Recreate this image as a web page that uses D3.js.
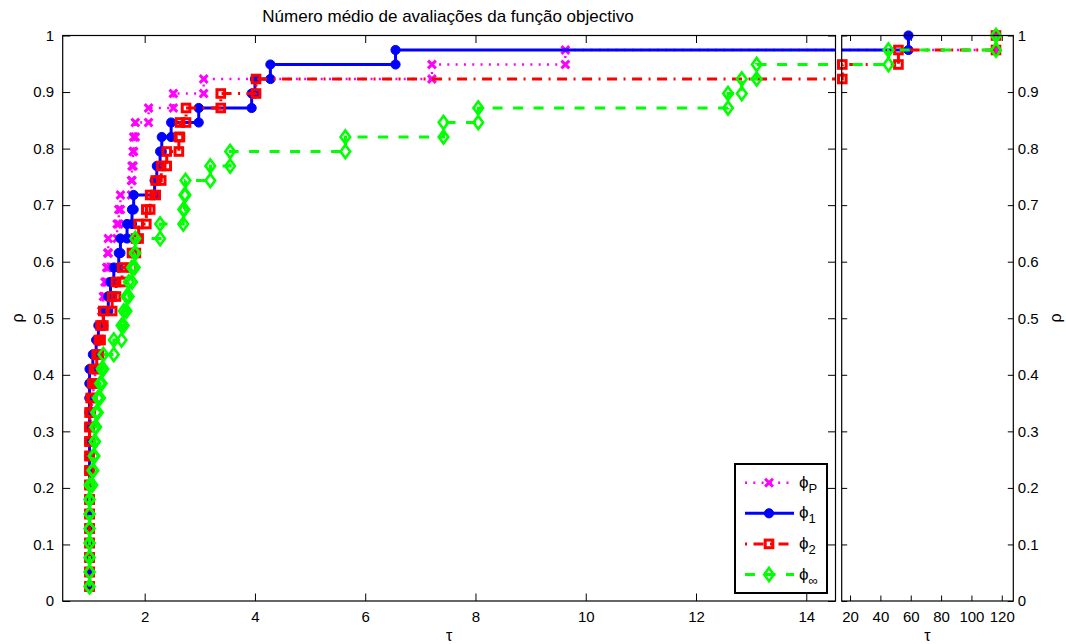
<!DOCTYPE html>
<html>
<head>
<meta charset="utf-8">
<title>Perfil de desempenho</title>
<script src="https://cdn.jsdelivr.net/npm/d3@7"></script>
<style>
  body { margin: 0; background: #fff; }
  svg { display: block; font-family: "Liberation Sans", Arial, Helvetica, sans-serif; }
  .tick text { font-size: 15px; fill: #000; }
  .tick line { stroke: #000; }
</style>
</head>
<body>
<svg id="chart" width="1066" height="644"></svg>
<script>
// sorted performance ratios (tau) of each solver over the 39 problems
const nProblems = 39;
const tauP = [1, 1, 1, 1, 1, 1, 1, 1, 1, 1, 1, 1,
  1.02, 1.04, 1.07, 1.10, 1.13, 1.16, 1.19, 1.22, 1.25, 1.28, 1.31, 1.33, 1.34,
  1.50, 1.53, 1.56, 1.76, 1.77, 1.79, 1.80, 1.83, 2.07, 2.52, 3.07, 7.21, 9.63, 116.2];
const tau1 = [1, 1, 1, 1, 1, 1, 1, 1, 1, 1, 1, 1, 1, 1, 1, 1,
  1.06, 1.12, 1.16, 1.25, 1.34, 1.38, 1.44, 1.53, 1.56, 1.68, 1.77, 1.80,
  2.18, 2.22, 2.28, 2.31, 2.48, 2.98, 3.94, 4.00, 4.28, 6.55, 58.5];
const tau2 = [1, 1, 1, 1, 1, 1, 1, 1, 1, 1, 1, 1, 1,
  1.02, 1.05, 1.08, 1.13, 1.17, 1.20, 1.25, 1.41, 1.48, 1.59, 1.77, 1.84, 1.89,
  2.03, 2.10, 2.20, 2.30, 2.40, 2.62, 2.64, 2.75, 3.38, 4.02, 14.9, 51.9, 116.2];
const tauInf = [1, 1, 1, 1, 1, 1, 1, 1,
  1.05, 1.07, 1.09, 1.10, 1.12, 1.15, 1.19, 1.22, 1.25, 1.44, 1.58, 1.62, 1.67,
  1.71, 1.77, 1.82, 1.83, 2.28, 2.70, 2.72, 2.74, 3.19, 3.55, 5.64, 7.42, 8.05,
  12.58, 12.83, 13.10, 45.3, 116.2];

const solverNames = ["P", "1", "2", "∞"];
const solverTaus = [tauP, tau1, tau2, tauInf];
const solverColours = ["#ff00ff", "#0000ff", "#ff0000", "#00ff00"];
const solverDashes = ["2,6.3", null, "10,6.5,2,6.5", "10,10.5"];
const solverMarkers = ["x", "o", "s", "d"];

const leftTicks = [2, 4, 6, 8, 10, 12, 14];
const rightTicks = [20, 40, 60, 80, 100, 120];
const yTicks = [0, 0.1, 0.2, 0.3, 0.4, 0.5, 0.6, 0.7, 0.8, 0.9, 1];
const title = "Número médio de avaliações da função objectivo";

// page elements
const svg = d3.select("#chart");
const plotTop = 35.5, plotBottom = 601;

const y = d3.scaleLinear().domain([0, 1]).range([plotBottom, plotTop]);
const panels = [
  { id: "left", x: d3.scaleLinear().domain([0.513, 14.53]).range([62.7, 835.5]), ticks: leftTicks, tick: 7.5 },
  { id: "right", x: d3.scaleLinear().domain([14.5, 127.6]).range([841.7, 1013.3]), ticks: rightTicks, tick: 5.5 }
];

// stairs vertices, the way matlab's stairs() builds them
function stairs(taus) {
  const pts = [];
  taus.forEach(function(t, i) {
    if (i > 0) pts.push([t, i / nProblems]);
    pts.push([t, (i + 1) / nProblems]);
  });
  return pts;
}

function drawMarker(g, type, colour) {
  if (type === "x") {
    g.append("path").attr("d", "M-3.9,-3.9L3.9,3.9M-3.9,3.9L3.9,-3.9")
      .attr("stroke", colour).attr("stroke-width", 3).attr("fill", "none");
  } else if (type === "o") {
    g.append("circle").attr("r", 4.6).attr("fill", colour)
      .attr("stroke", colour).attr("stroke-width", 1);
  } else if (type === "s") {
    g.append("rect").attr("x", -3.8).attr("y", -3.8).attr("width", 7.6).attr("height", 7.6)
      .attr("fill", "none").attr("stroke", colour).attr("stroke-width", 3);
  } else {
    g.append("path").attr("d", "M0,-6.6L4.8,0L0,6.6L-4.8,0Z")
      .attr("fill", "none").attr("stroke", colour).attr("stroke-width", 2.6);
  }
}

const defs = svg.append("defs");

panels.forEach(function(p) {
  const [x0, x1] = p.x.range();
  defs.append("clipPath").attr("id", "clip-" + p.id)
    .append("rect").attr("x", x0).attr("y", plotTop).attr("width", x1 - x0).attr("height", plotBottom - plotTop);

  const g = svg.append("g");

  // axes: ticks inward on all four sides
  g.append("g").attr("transform", "translate(0," + plotBottom + ")")
    .call(d3.axisBottom(p.x).tickValues(p.ticks).tickSizeInner(-p.tick).tickSizeOuter(0).tickPadding(10))
    .call(a => a.select(".domain").remove());
  g.append("g").attr("transform", "translate(0," + plotTop + ")")
    .call(d3.axisTop(p.x).tickValues(p.ticks).tickSizeInner(-p.tick).tickSizeOuter(0).tickFormat(""))
    .call(a => a.select(".domain").remove());
  g.append("g").attr("transform", "translate(" + x0 + ",0)")
    .call(d3.axisLeft(y).tickValues(yTicks).tickSizeInner(-p.tick).tickSizeOuter(0).tickPadding(8.5)
      .tickFormat(p.id === "left" ? d3.format("~g") : ""))
    .call(a => a.select(".domain").remove());
  g.append("g").attr("transform", "translate(" + x1 + ",0)")
    .call(d3.axisRight(y).tickValues(yTicks).tickSizeInner(-p.tick).tickSizeOuter(0).tickPadding(4.5)
      .tickFormat(p.id === "right" ? d3.format("~g") : ""))
    .call(a => a.select(".domain").remove());

  // curves
  const line = d3.line().x(d => p.x(d[0])).y(d => y(d[1]));
  const [d0, d1] = p.x.domain();
  solverTaus.forEach(function(taus, s) {
    const pts = stairs(taus);
    g.append("path").datum(pts)
      .attr("clip-path", "url(#clip-" + p.id + ")")
      .attr("d", line)
      .attr("fill", "none")
      .attr("stroke", solverColours[s])
      .attr("stroke-width", s === 0 ? 2.4 : 3)
      .attr("stroke-dasharray", solverDashes[s]);
    g.append("g").selectAll("g")
      .data(pts.filter(d => d[0] >= d0 && d[0] <= d1))
      .join("g")
      .attr("transform", d => "translate(" + p.x(d[0]) + "," + y(d[1]) + ")")
      .each(function() { drawMarker(d3.select(this), solverMarkers[s], solverColours[s]); });
  });

  g.append("rect").attr("x", x0).attr("y", plotTop).attr("width", x1 - x0).attr("height", plotBottom - plotTop)
    .attr("fill", "none").attr("stroke", "#000").attr("stroke-width", 1.2);

  g.append("text").attr("x", (x0 + x1) / 2).attr("y", 641)
    .attr("text-anchor", "middle").attr("font-size", 16).text("τ");
});

// labels
svg.append("text").attr("x", 448).attr("y", 22).attr("text-anchor", "middle")
  .attr("font-size", 17).text(title);
[17, 1055].forEach(function(cx) {
  svg.append("text").attr("transform", "translate(" + cx + "," + 318 + ") rotate(-90)")
    .attr("text-anchor", "middle").attr("dy", "0.35em").attr("font-size", 16).text("ρ");
});

// legend
const legend = svg.append("g");
legend.append("rect").attr("x", 735).attr("y", 464).attr("width", 92).attr("height", 129)
  .attr("fill", "#fff").attr("stroke", "#000").attr("stroke-width", 2);
solverNames.forEach(function(name, s) {
  const ly = 482.7 + s * 30.6;
  legend.append("line").attr("x1", 745).attr("x2", 794).attr("y1", ly).attr("y2", ly)
    .attr("stroke", solverColours[s]).attr("stroke-width", s === 0 ? 2.4 : 3)
    .attr("stroke-dasharray", solverDashes[s])
    .attr("stroke-dashoffset", s === 2 ? 16.5 : 0);
  drawMarker(legend.append("g").attr("transform", "translate(769," + ly + ")"), solverMarkers[s], solverColours[s]);
  const t = legend.append("text").attr("x", 799).attr("y", ly + 5).attr("font-size", 17);
  t.append("tspan").text("ϕ");
  t.append("tspan").attr("dy", 5).attr("font-size", 13).text(name);
});
</script>
</body>
</html>
